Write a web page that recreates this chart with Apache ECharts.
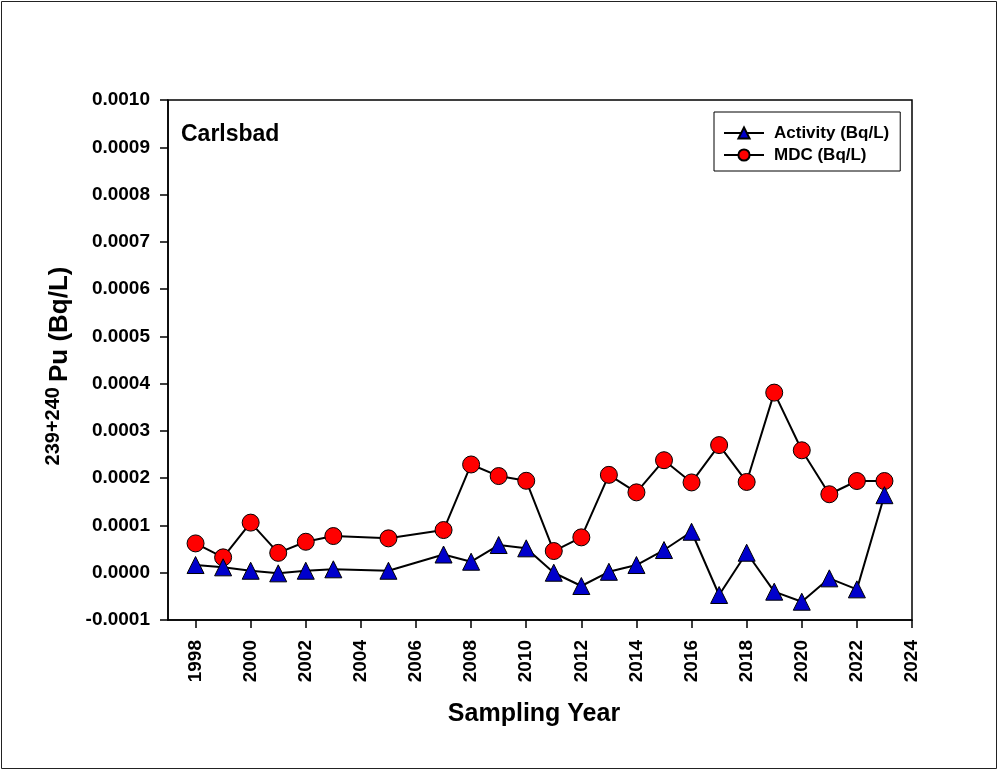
<!DOCTYPE html>
<html>
<head>
<meta charset="utf-8">
<script src="https://cdn.jsdelivr.net/npm/echarts@6/dist/echarts.min.js"></script>
<style>
html,body{margin:0;padding:0;background:#fff;}
#main{width:999px;height:771px;}
</style>
</head>
<body>
<div id="main"></div>
<script>
var years = [1998,1999,2000,2001,2002,2003,2005,2007,2008,2009,2010,2011,2012,2013,2014,2015,2016,2017,2018,2019,2020,2021,2022,2023];
var activity = [0.0000163,0.0000114,0.0000042,-0.0000013,0.0000042,0.0000072,0.0000042,0.0000385,0.0000233,0.0000586,0.0000516,0.0000000,-0.0000281,0.0000020,0.0000163,0.0000480,0.0000867,-0.0000471,0.0000423,-0.0000401,-0.0000613,-0.0000119,-0.0000352,0.0001640];
var mdc = [0.0000620,0.0000325,0.0001060,0.0000420,0.0000655,0.0000776,0.0000727,0.0000903,0.0002290,0.0002045,0.0001945,0.0000459,0.0000748,0.0002070,0.0001700,0.0002380,0.0001910,0.0002700,0.0001920,0.0003810,0.0002590,0.0001660,0.0001940,0.0001940];
var xTicks = [1998,2000,2002,2004,2006,2008,2010,2012,2014,2016,2018,2020,2022,2024];

function pairs(xs, ys){
	var out = [];
	for(var i=0;i<xs.length;i++){
		out.push([xs[i], ys[i]]);
	}
	return out;
}

var font = 'Liberation Sans, Arial, sans-serif';
var myChart = echarts.init(document.getElementById('main'));
var option = {
	backgroundColor: '#fff',
	animation: false,
	textStyle: { fontFamily: font },
	graphic: [{
		type: 'rect',
		shape: { x: 1.5, y: 1.5, width: 995, height: 767 },
		style: { fill: 'none', stroke: '#222', lineWidth: 1 }
	},{
		type: 'text',
		left: 181, top: 123,
		style: { text: 'Carlsbad', font: 'bold 23px ' + font, fill: '#000' }
	}],
	legend: {
		orient: 'vertical',
		left: 714, top: 112,
		padding: [11, 11, 6, 9],
		itemGap: 2,
		itemWidth: 40,
		itemHeight: 14,
		borderColor: '#000',
		borderWidth: 1,
		textStyle: { fontWeight: 'bold', fontSize: 17, lineHeight: 20, color: '#000', fontFamily: font, padding: [0, 0, 0, 5] },
		data: ['Activity (Bq/L)', 'MDC (Bq/L)']
	},
	grid: { left: 168, top: 100, width: 744, height: 520, show: true, borderColor: '#000', borderWidth: 1.5 },
	xAxis: {
		type: 'value',
		min: 1997, max: 2024,
		name: 'Sampling Year',
		nameLocation: 'middle',
		nameGap: 82,
		nameTextStyle: { fontWeight: 'bold', fontSize: 25, color: '#000', padding: [0, 12, 0, 0] },
		axisLine: { onZero: false, lineStyle: { color: '#000', width: 1.5 } },
		axisTick: { show: true, length: 8, customValues: xTicks, lineStyle: { color: '#000', width: 1.5 } },
		axisLabel: {
			rotate: 90, margin: 20, fontWeight: 'bold', fontSize: 19, color: '#000', customValues: xTicks,
			formatter: function(v){ return String(v); }
		},
		splitLine: { show: false }
	},
	yAxis: {
		type: 'value',
		min: -0.0001, max: 0.0010, interval: 0.0001,
		name: '{sup|239+240}{b|Pu (Bq/L)}',
		nameLocation: 'middle',
		nameGap: 95,
		nameTextStyle: {
			color: '#000',
			rich: {
				sup: { fontWeight: 'bold', fontSize: 20, fontFamily: font, color: '#000', verticalAlign: 'top', lineHeight: 30 },
				b: { fontWeight: 'bold', fontSize: 26, fontFamily: font, color: '#000', verticalAlign: 'bottom', lineHeight: 30, padding: [0, 12, 0, 5] }
			}
		},
		axisLine: { show: true, onZero: false, lineStyle: { color: '#000', width: 1.5 } },
		axisTick: { show: true, length: 8, lineStyle: { color: '#000', width: 1.5 } },
		axisLabel: {
			margin: 18, fontWeight: 'bold', fontSize: 19, color: '#000',
			formatter: function(v){ return v.toFixed(4); }
		},
		splitLine: { show: false }
	},
	series: [{
		name: 'Activity (Bq/L)',
		type: 'line',
		data: pairs(years, activity),
		symbol: 'triangle',
		symbolSize: 17,
		lineStyle: { color: '#000', width: 2 },
		itemStyle: { color: '#0000cc', borderColor: '#000', borderWidth: 1 },
		z: 3
	},{
		name: 'MDC (Bq/L)',
		type: 'line',
		data: pairs(years, mdc),
		symbol: 'circle',
		symbolSize: 17,
		lineStyle: { color: '#000', width: 2 },
		itemStyle: { color: '#ff0000', borderColor: '#000', borderWidth: 1 },
		z: 2
	}]
};
myChart.setOption(option);
</script>
</body>
</html>
